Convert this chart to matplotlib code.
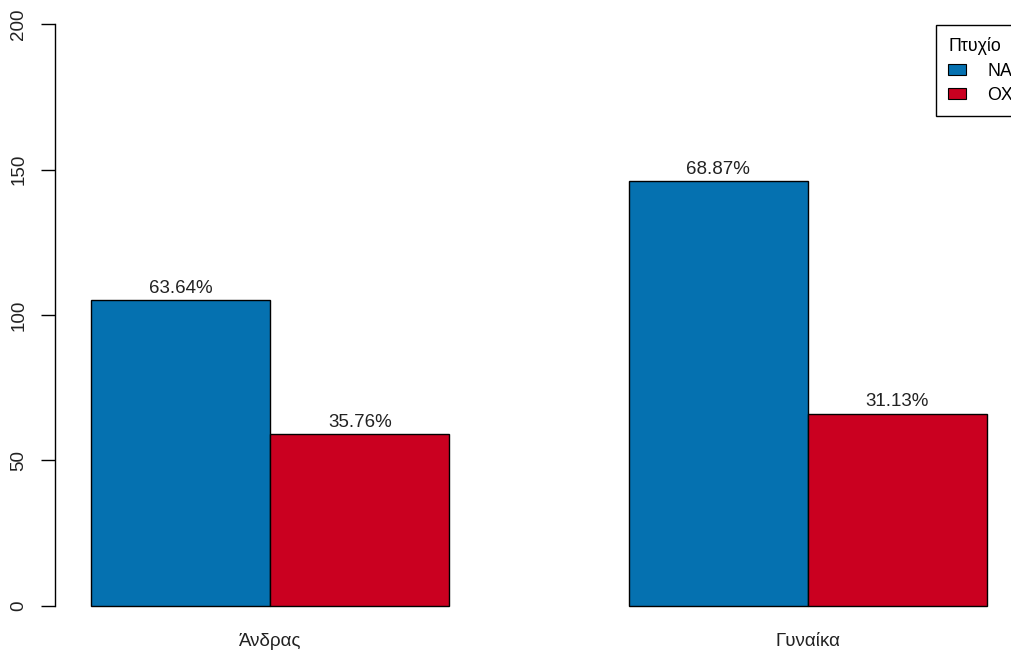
import matplotlib.pyplot as plt
from matplotlib.patches import Patch

plt.rcParams['font.family'] = ['Liberation Sans', 'DejaVu Sans']

# data
groups = ['Άνδρας', 'Γυναίκα']
series = ['NAI', 'OXI']
counts_nai = [105, 146]
counts_oxi = [59, 66]
labels_nai = ['63.64%', '68.87%']
labels_oxi = ['35.76%', '31.13%']
colors = ['#0571B0', '#CA0020']
yticks = [0, 50, 100, 150, 200]

fig = plt.figure(figsize=(10.11, 6.53), dpi=100)
# plot region runs past the right edge like the original (cropped) R figure
ax = fig.add_axes([55 / 1011, 24 / 653, 968 / 1011, 628 / 653])

# R barplot(beside=TRUE) positions: bars [1,2],[2,3] and [4,5],[5,6]
left_nai = [1, 4]
left_oxi = [2, 5]
ax.bar(left_nai, counts_nai, width=1, align='edge', color=colors[0],
       edgecolor='black', linewidth=1)
ax.bar(left_oxi, counts_oxi, width=1, align='edge', color=colors[1],
       edgecolor='black', linewidth=1)

for x, h, s in zip(left_nai, counts_nai, labels_nai):
    ax.text(x + 0.5, h + 1.2, s, ha='center', va='bottom', fontsize=13.5, color='#222222')
for x, h, s in zip(left_oxi, counts_oxi, labels_oxi):
    ax.text(x + 0.5, h + 1.2, s, ha='center', va='bottom', fontsize=13.5, color='#222222')

ax.set_xlim(0.8, 6.2)
ax.set_ylim(-8, 208)

ax.set_xticks([2, 5])
ax.set_xticklabels(groups, fontsize=13.5, color='#222222')
ax.tick_params(axis='x', length=0, pad=3)

ax.set_yticks(yticks)
ax.set_yticklabels([str(v) for v in yticks], rotation=90, va='center', fontsize=13.5,
                   color='#222222')
ax.tick_params(axis='y', length=10, width=1, direction='out', pad=10)

for side in ['top', 'right', 'bottom']:
    ax.spines[side].set_visible(False)
ax.spines['left'].set_bounds(0, 200)
ax.spines['left'].set_linewidth(1)

handles = [Patch(facecolor=c, edgecolor='black', linewidth=0.8) for c in colors]
leg = fig.legend(handles, series, title='Πτυχίο', loc='upper left',
                 bbox_to_anchor=(936 / 1011, 1 - 25 / 653),
                 fancybox=False, edgecolor='black', framealpha=1,
                 fontsize=12.8, title_fontsize=12.8, handlelength=1.0,
                 handleheight=0.55, handletextpad=1.2, labelspacing=0.4,
                 borderpad=0.7, borderaxespad=0, alignment='left')
leg.get_frame().set_linewidth(1)

fig.savefig('out.png', dpi=100)
